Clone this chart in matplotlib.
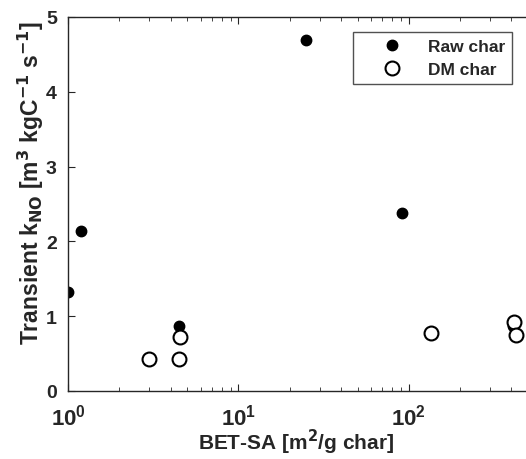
import matplotlib.pyplot as plt
import numpy as np

plt.rcParams['font.family'] = ['Liberation Sans', 'DejaVu Sans']
plt.rcParams['font.weight'] = 'bold'
plt.rcParams['mathtext.default'] = 'bf'

# Raw char data
raw_sa = [1.0, 1.19, 4.48, 24.9, 90.6, 409]
raw_k = [1.32, 2.135, 0.87, 4.69, 2.385, 0.873]

# DM char data
dm_sa = [2.97, 4.48, 4.56, 134.6, 415, 428]
dm_k = [0.432, 0.432, 0.718, 0.771, 0.922, 0.749]

col = '#262626'

fig = plt.figure(figsize=(5.26, 4.6), dpi=100)
# axes: left at x=68, bottom at y=392, top at y=18, right edge just past figure
ax = fig.add_axes([68 / 526, (460 - 392) / 460, (528 - 68) / 526, (392 - 18) / 460])

ax.plot(raw_sa, raw_k, 'o', color='black', markersize=7.5, label='Raw char', linestyle='none')
ax.plot(dm_sa, dm_k, 'o', markerfacecolor='white', markeredgecolor='black',
        markeredgewidth=1.5, markersize=10, label='DM char', linestyle='none')

ax.set_xscale('log')
ax.set_xlim(1, 500)
ax.set_ylim(0, 5)
ax.set_yticks([0, 1, 2, 3, 4, 5])

ax.tick_params(axis='both', which='both', direction='in', colors=col, labelsize=14,
               top=True, right=False)
ax.tick_params(which='major', length=5)
ax.tick_params(which='minor', length=3)
ax.tick_params(axis='y', pad=8)
ax.tick_params(axis='x', pad=9, labelsize=16)
for lbl in ax.get_xticklabels() + ax.get_yticklabels():
    lbl.set_fontweight('bold')
for s in ['left', 'bottom', 'top']:
    ax.spines[s].set_color(col)
    ax.spines[s].set_linewidth(1.0)
ax.spines['right'].set_visible(False)

ax.set_xlabel('BET-SA [m$^{2}$/g char]', fontsize=15, fontweight='bold', color=col)
ax.xaxis.set_label_coords((296.5 - 68) / 460, (392 - 428) / 374)
ax.set_ylabel('Transient k$_{NO}$ [m$^{3}$ kgC$^{-1}$ s$^{-1}$]',
              fontsize=16.5, fontweight='bold', color=col)
ax.yaxis.set_label_coords((46 - 68) / 460, (392 - 183) / 374)

leg = ax.legend(loc='upper right', bbox_to_anchor=((512 - 68) / 460, (392 - 33) / 374),
                borderaxespad=0, fontsize=12.5, frameon=True, fancybox=False, edgecolor=col,
                handlelength=3.7, handletextpad=0.2, borderpad=0.4, labelspacing=0.45)
leg.get_frame().set_linewidth(1.0)
for t in leg.get_texts():
    t.set_color(col)

fig.savefig('out.png', dpi=100)
